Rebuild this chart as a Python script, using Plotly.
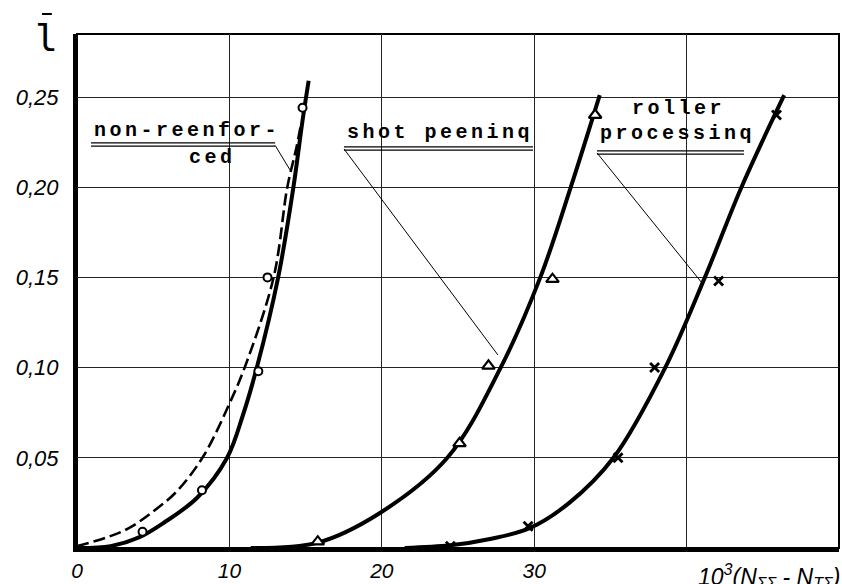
import plotly.graph_objects as go

# ---------------- data ----------------
# Non-reinforced: measured points (circles), solid fitted curve, dashed curve
nr_pts_x = [4.3, 8.2, 11.9, 12.5, 14.8]
nr_pts_y = [0.009, 0.032, 0.098, 0.150, 0.244]
nr_solid_x = [0, 2.2, 4.1, 5.7, 7.9, 9.85, 10.9, 11.8, 13.2, 14.2, 14.8, 15.2]
nr_solid_y = [0, 0.001, 0.006, 0.014, 0.028, 0.050, 0.074, 0.100, 0.150, 0.200, 0.237, 0.259]
nr_dash_x = [0, 2.0, 3.4, 4.8, 6.5, 8.3, 10.0, 11.0, 12.9, 13.8, 14.4, 14.7]
nr_dash_y = [0.001, 0.006, 0.011, 0.019, 0.031, 0.051, 0.080, 0.100, 0.150, 0.200, 0.222, 0.235]

# Shot peening: triangles + curve
sp_pts_x = [15.8, 25.1, 27.0, 31.2, 34.0]
sp_pts_y = [0.0035, 0.058, 0.101, 0.149, 0.240]
sp_curve_x = [11.4, 15.8, 19.8, 24.3, 27.8, 30.4, 32.4, 34.3]
sp_curve_y = [0, 0.003, 0.019, 0.050, 0.100, 0.150, 0.200, 0.251]

# Roller processing: crosses + curve
rp_pts_x = [24.5, 29.6, 35.5, 37.9, 42.1, 45.9]
rp_pts_y = [0.001, 0.012, 0.050, 0.100, 0.148, 0.240]
rp_curve_x = [21.5, 24.5, 27.1, 29.7, 32.3, 35.2, 38.6, 41.2, 43.6, 46.4]
rp_curve_y = [0, 0.0015, 0.005, 0.011, 0.025, 0.050, 0.100, 0.150, 0.200, 0.251]

x_tickvals = [0, 10, 20, 30, 40]
x_ticktext = ["0", "10", "20", "30", ""]
y_tickvals = [0.05, 0.10, 0.15, 0.20, 0.25]
y_ticktext = ["0,05", "0,10", "0,15", "0,20", "0,25"]

# labels: (text, left x, middle y) in data units; underline and leader line ends
labels = [
    {"lines": [("non-reenfor-", 0.98, 0.2312), ("ced", 7.22, 0.2162)],
     "under": (0.92, 13.0, 0.2237), "leader": (13.0, 0.2232, 13.98, 0.2095)},
    {"lines": [("shot peeninq", 17.59, 0.2306)],
     "under": (17.52, 29.92, 0.2215), "leader": (17.52, 0.2212, 27.62, 0.1070)},
    {"lines": [("roller", 36.3, 0.2439), ("processinq", 34.2, 0.2295)],
     "under": (34.12, 43.77, 0.2192), "leader": (34.12, 0.2190, 41.01, 0.1469)},
]

X_MAX = 50
Y_MAX = 0.25 * 514 / 451

TYPE_FONT = dict(family="Liberation Mono, DejaVu Sans Mono, monospace", size=20, color="black")
TICK_FONT = dict(family="Liberation Sans, Arial, sans-serif", size=22, color="black", style="italic")

fig = go.Figure()

spline = dict(shape="spline", smoothing=1.0)
fig.add_trace(go.Scatter(x=nr_dash_x, y=nr_dash_y, mode="lines",
                         line=dict(color="black", width=2.6, dash="12px,5px", **spline)))
fig.add_trace(go.Scatter(x=nr_solid_x, y=nr_solid_y, mode="lines",
                         line=dict(color="black", width=4, **spline)))
fig.add_trace(go.Scatter(x=sp_curve_x, y=sp_curve_y, mode="lines",
                         line=dict(color="black", width=4, **spline)))
fig.add_trace(go.Scatter(x=rp_curve_x, y=rp_curve_y, mode="lines",
                         line=dict(color="black", width=4, **spline)))

fig.add_trace(go.Scatter(x=nr_pts_x, y=nr_pts_y, mode="markers",
                         marker=dict(symbol="circle", size=8, color="white",
                                     line=dict(color="black", width=2))))
fig.add_trace(go.Scatter(x=sp_pts_x, y=sp_pts_y, mode="markers",
                         marker=dict(symbol="triangle-up", size=11, color="white",
                                     line=dict(color="black", width=2.2))))
fig.add_trace(go.Scatter(x=rp_pts_x, y=rp_pts_y, mode="markers",
                         marker=dict(symbol="x-thin", size=9,
                                     line=dict(color="black", width=2.8))))

annotations = []
shapes = []
for lab in labels:
    for txt, lx, ly in lab["lines"]:
        annotations.append(dict(
            x=lx, y=ly, xref="x", yref="y", xanchor="left", yanchor="middle",
            text="<b><span style='letter-spacing:3.5px'>%s</span></b>" % txt,
            showarrow=False, font=TYPE_FONT))
    x0, x1, uy = lab["under"]
    for dy in (0.0009, -0.0009):
        shapes.append(dict(type="line", xref="x", yref="y", x0=x0, x1=x1,
                           y0=uy + dy, y1=uy + dy, line=dict(color="black", width=1.3)))
    a, b, c, d = lab["leader"]
    shapes.append(dict(type="line", xref="x", yref="y", x0=a, y0=b, x1=c, y1=d,
                       line=dict(color="black", width=1)))

# frame top & right (thinner than the axes)
shapes.append(dict(type="rect", xref="x domain", yref="y domain", x0=0, x1=1, y0=0, y1=1,
                   line=dict(color="black", width=2), layer="below"))

# y-axis symbol: l with an overbar
annotations.append(dict(x=-0.0394, y=0.992, xref="paper", yref="paper",
                        xanchor="center", yanchor="middle", text="l", showarrow=False,
                        font=dict(family="DejaVu Sans Mono, monospace", size=38, color="black")))
shapes.append(dict(type="line", xref="paper", yref="paper", x0=-0.046, x1=-0.033,
                   y0=1.0389, y1=1.0389, line=dict(color="black", width=2)))

# x-axis label (cut off at the right edge, as in the source)
annotations.append(dict(x=40.6, y=0, xref="x", yref="y", xanchor="left", yanchor="top",
                        yshift=-10, text="10<sup>3</sup>(N<sub>ΣΣ</sub> - N<sub>TΣ</sub>)",
                        showarrow=False, font=dict(TICK_FONT, size=23)))

fig.update_layout(
    width=842, height=584, autosize=False,
    margin=dict(l=77, r=3, t=34, b=36, pad=0, autoexpand=False),
    paper_bgcolor="white", plot_bgcolor="white",
    showlegend=False,
    annotations=annotations, shapes=shapes,
    xaxis=dict(range=[0, X_MAX], tickvals=x_tickvals, ticktext=x_ticktext,
               showgrid=True, gridcolor="#222", gridwidth=1.4,
               showline=True, linecolor="black", linewidth=4,
               zeroline=False, ticks="", tickfont=dict(TICK_FONT, size=21),
               ticklabelstandoff=1, automargin=False, fixedrange=True),
    yaxis=dict(range=[0, Y_MAX], tickvals=y_tickvals, ticktext=y_ticktext,
               showgrid=True, gridcolor="#222", gridwidth=1.4,
               showline=True, linecolor="black", linewidth=4,
               zeroline=False, ticks="", tickfont=TICK_FONT, ticklabelstandoff=10,
               automargin=False, fixedrange=True),
)

fig.write_html("out.html", config={"displayModeBar": False},
               post_script="document.body.style.margin='0';document.body.style.overflow='hidden';")
